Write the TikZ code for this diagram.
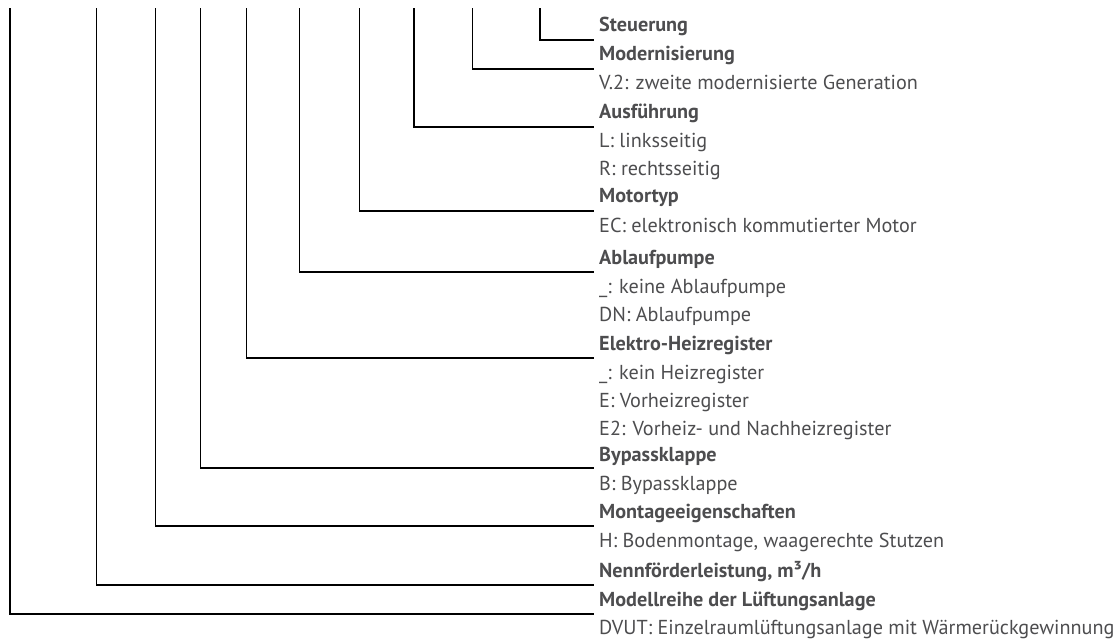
\documentclass[tikz,border=0pt]{standalone}
\usepackage{fontspec}
\setmainfont{PT Sans}
\definecolor{txtgray}{HTML}{4D4D4F}
\begin{document}
\begin{tikzpicture}[x=1pt,y=-1pt,
  lbl/.style={anchor=base west,inner sep=0pt,text=txtgray,font=\fontsize{20.2}{22}\selectfont},
  ttl/.style={lbl,font=\fontsize{20.2}{22}\selectfont\bfseries},
  conn/.style={draw=black,line width=1.3pt,line cap=rect}]
\useasboundingbox (0,0) rectangle (1113,639);
% titles (baseline = line - 8)
\node[ttl] (t1)  at (599,32)  {Steuerung};
\node[ttl] (t2)  at (599,61)  {Modernisierung};
\node[lbl] (d2a) at (599,90)  {V.2: zweite modernisierte Generation};
\node[ttl] (t3)  at (599,119) {Ausführung};
\node[lbl] (d3a) at (599,148) {L: linksseitig};
\node[lbl] (d3b) at (599,176) {R: rechtsseitig};
\node[ttl] (t4)  at (599,203) {Motortyp};
\node[lbl] (d4a) at (599,232) {EC: elektronisch kommutierter Motor};
\node[ttl] (t5)  at (599,264) {Ablaufpumpe};
\node[lbl] (d5a) at (599,293) {\_: keine Ablaufpumpe};
\node[lbl] (d5b) at (599,321) {DN: Ablaufpumpe};
\node[ttl] (t6)  at (599,350) {Elektro-Heizregister};
\node[lbl] (d6a) at (599,379) {\_: kein Heizregister};
\node[lbl] (d6b) at (599,407) {E: Vorheizregister};
\node[lbl] (d6c) at (599,435) {E2: Vorheiz- und Nachheizregister};
\node[ttl] (t7)  at (599,461) {Bypassklappe};
\node[lbl] (d7a) at (599,490) {B: Bypassklappe};
\node[ttl] (t8)  at (599,518) {Montageeigenschaften};
\node[lbl] (d8a) at (599,547) {H: Bodenmontage, waagerechte Stutzen};
\node[ttl] (t9)  at (599,577) {Nennförderleistung, m³/h};
\node[ttl] (t10) at (599,606) {Modellreihe der Lüftungsanlage};
\node[lbl] (d10a) at (599,634) {DVUT: Einzelraumlüftungsanlage mit Wärmerückgewinnung};
% connector ends (tops and line ends)
\coordinate (s1) at (540,9);   \coordinate (e1) at (593,40);
\coordinate (s2) at (472.5,9); \coordinate (e2) at (593,69);
\coordinate (s3) at (414,9);   \coordinate (e3) at (593,127);
\coordinate (s4) at (359.7,9); \coordinate (e4) at (593,211);
\coordinate (s5) at (299.2,9); \coordinate (e5) at (593,272);
\coordinate (s6) at (246.2,9); \coordinate (e6) at (593,358);
\coordinate (s7) at (200.8,9); \coordinate (e7) at (593,468);
\coordinate (s8) at (155.2,9); \coordinate (e8) at (593,526);
\coordinate (s9) at (96.5,9);  \coordinate (e9) at (593,585);
\coordinate (s10) at (10,9);   \coordinate (e10) at (593,614);
\foreach \i in {1,...,10} {\draw[conn] (s\i) |- (e\i);}
\end{tikzpicture}
\end{document}
